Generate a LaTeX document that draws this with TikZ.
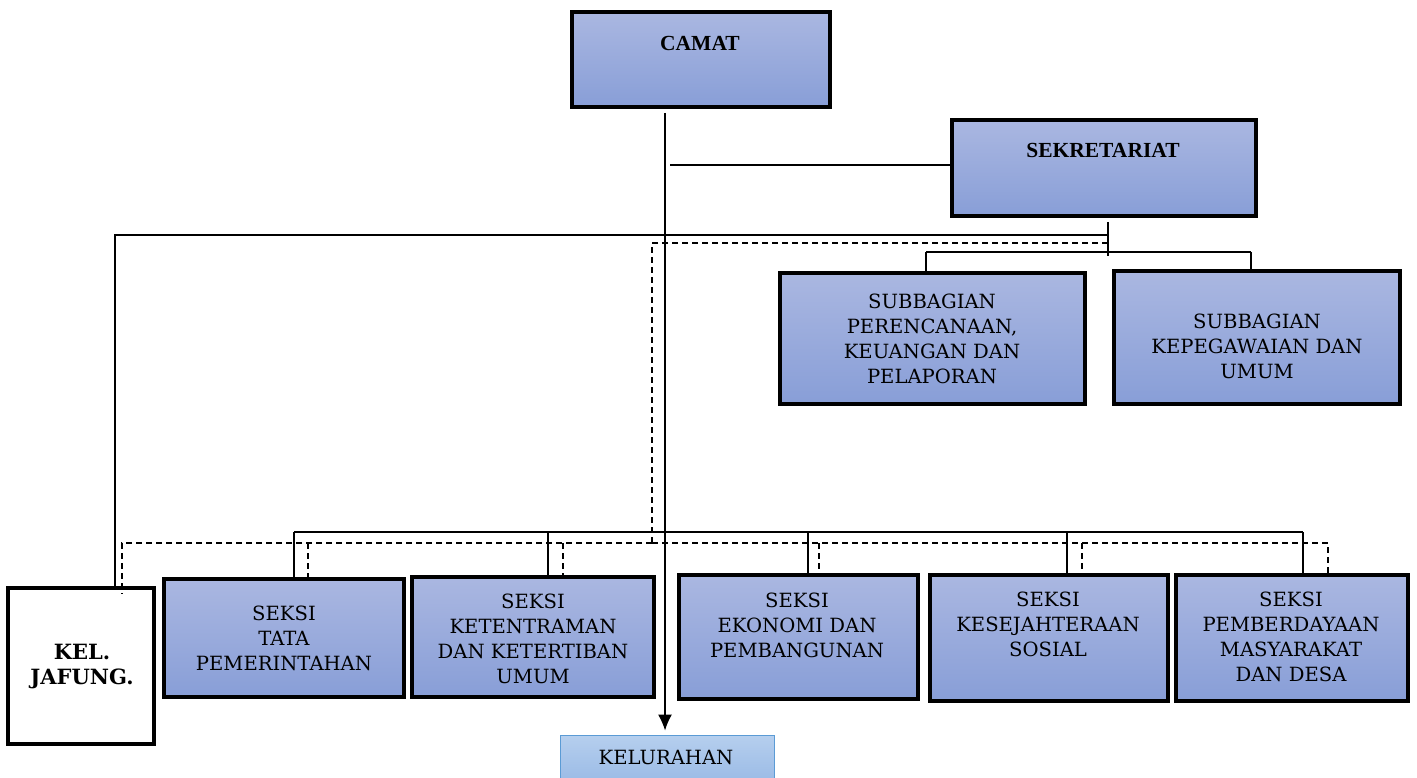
\documentclass[tikz,border=0pt]{standalone}
\usepackage{fontspec}
\setmainfont{DejaVu Serif}
\newfontfamily\timesf{Liberation Serif}
\usetikzlibrary{arrows.meta}
\definecolor{boxtop}{HTML}{AAB7E1}
\definecolor{boxbot}{HTML}{889ED7}
\definecolor{keltop}{HTML}{B6CFEE}
\definecolor{kelbot}{HTML}{9BBBE6}
\definecolor{kelline}{HTML}{5B9BD5}
\tikzset{
  obox/.style={draw=black, line width=3.2pt, top color=boxtop, bottom color=boxbot, inner sep=0pt},
  wbox/.style={draw=black, line width=3.2pt, fill=white, inner sep=0pt},
  kbox/.style={draw=kelline, line width=1pt, top color=keltop, bottom color=kelbot, inner sep=0pt},
  txt/.style={align=center, font=\fontsize{19.6}{25}\selectfont, inner sep=0pt},
  ttl/.style={font=\timesf\bfseries\fontsize{21.5}{25}\selectfont, inner sep=0pt},
  jtxt/.style={align=center, font=\bfseries\fontsize{21}{25}\selectfont, inner sep=0pt},
  conn/.style={line width=1.2pt},
  dconn/.style={line width=1.2pt, dash pattern=on 6pt off 4pt},
}
\begin{document}
\begin{tikzpicture}[x=1pt,y=-1pt]
\useasboundingbox (0,0) rectangle (1417,778);
% boxes
\node[obox, minimum width=258, minimum height=95] (camat) at (701,59.5) {};
\node[obox, minimum width=304, minimum height=96] (sek) at (1104,168) {};
\node[obox, minimum width=305, minimum height=131] (sub1) at (932.5,338.5) {};
\node[obox, minimum width=286, minimum height=133] (sub2) at (1257,337.5) {};
\node[wbox, minimum width=146, minimum height=156] (jaf) at (81,666) {};
\node[obox, minimum width=240, minimum height=118] (s1) at (284,638) {};
\node[obox, minimum width=242, minimum height=120] (s2) at (533,637) {};
\node[obox, minimum width=239, minimum height=124] (s3) at (798.5,637) {};
\node[obox, minimum width=238, minimum height=126] (s4) at (1049,638) {};
\node[obox, minimum width=232, minimum height=126] (s5) at (1292,638) {};
\node[kbox, minimum width=214, minimum height=46] (kel) at (667,758) {};
% texts
\node[ttl] (camatt) at (700,43) {CAMAT};
\node[ttl] (sekt) at (1103,150) {SEKRETARIAT};
\node[txt] (sub1t) at (932,339) {SUBBAGIAN\\PERENCANAAN,\\KEUANGAN DAN\\PELAPORAN};
\node[txt] (sub2t) at (1257,346) {SUBBAGIAN\\KEPEGAWAIAN DAN\\UMUM};
\node[jtxt] (jaft) at (82,667) {KEL.\\JAFUNG.};
\node[txt] (s1t) at (284,638) {SEKSI\\TATA\\PEMERINTAHAN};
\node[txt] (s2t) at (533,638.5) {SEKSI\\KETENTRAMAN\\DAN KETERTIBAN\\UMUM};
\node[txt] (s3t) at (797,625) {SEKSI\\EKONOMI DAN\\PEMBANGUNAN};
\node[txt] (s4t) at (1048,624) {SEKSI\\KESEJAHTERAAN\\SOSIAL};
\node[txt] (s5t) at (1291,636.5) {SEKSI\\PEMBERDAYAAN\\MASYARAKAT\\DAN DESA};
\node[txt] (kelt) at (666,757) {KELURAHAN};
% junction coordinates
\coordinate (cd) at (665,113);
\coordinate (hs) at (670,165);
\coordinate (sd1) at (1108,222);
\coordinate (sd2) at (1108,256);
\coordinate (jl) at (115,235);
\coordinate (jr) at (1108,235);
\coordinate (dr) at (1108,243);
\coordinate (dm) at (652,243);
\coordinate (dj) at (652,543);
\coordinate (dl) at (122,543);
\coordinate (de) at (1328,543);
\coordinate (ul) at (926,252);
\coordinate (ur) at (1251,252);
\coordinate (bl) at (294,532);
\coordinate (b2) at (548,532);
\coordinate (b3) at (808,532);
\coordinate (b4) at (1067,532);
\coordinate (br) at (1303,532);
\coordinate (d1) at (308,543);
\coordinate (d2) at (563,543);
\coordinate (d3) at (819,543);
\coordinate (d4) at (1082,543);
% solid connectors
\draw[conn,-{Latex[length=16pt,width=14pt]}] (cd) -- ([yshift=4pt]cd |- kel.north);
\draw[conn] (hs) -- (sek.west |- hs);
\draw[conn] (sd1) -- (sd2);
\draw[conn] (ul) -- (ur);
\draw[conn] (ul) -- (ul |- sub1.north);
\draw[conn] (ur) -- (ur |- sub2.north);
\draw[conn] (jr) -- (jl) -- (jl |- jaf.north);
\draw[conn] (bl) -- (br);
\draw[conn] (bl) -- (bl |- s1.north);
\draw[conn] (b2) -- (b2 |- s2.north);
\draw[conn] (b3) -- (b3 |- s3.north);
\draw[conn] (b4) -- (b4 |- s4.north);
\draw[conn] (br) -- (br |- s5.north);
% dashed connectors
\draw[dconn] (dr) -- (dm) -- (dj);
\draw[dconn] (dj) -- (dl) -- ([yshift=-8pt]dl |- jaf.north);
\draw[dconn] (dj) -- (de) -- ([yshift=-2pt]de |- s5.north);
\draw[dconn] (d1) -- (d1 |- s1.north);
\draw[dconn] (d2) -- (d2 |- s2.north);
\draw[dconn] (d3) -- (d3 |- s3.north);
\draw[dconn] (d4) -- (d4 |- s4.north);
\end{tikzpicture}
\end{document}
